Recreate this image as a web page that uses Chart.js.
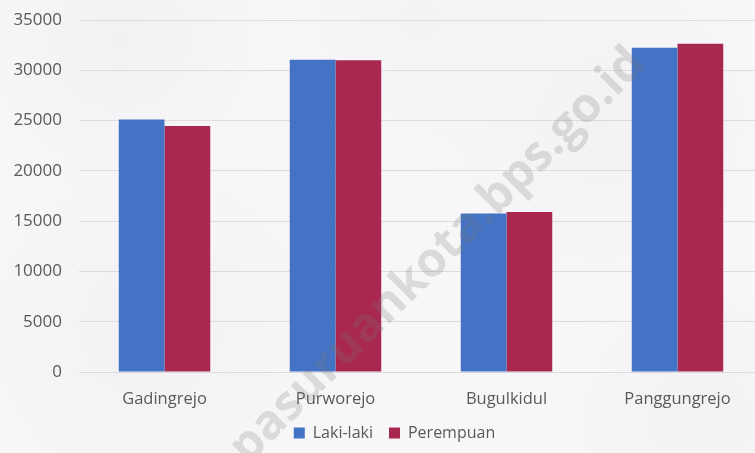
<!DOCTYPE html>
<html>
<head>
<meta charset="utf-8">
<script src="https://cdn.jsdelivr.net/npm/chart.js@4/dist/chart.umd.min.js"></script>
<style>
  html, body { margin: 0; padding: 0; background: #f5f5f7; overflow: hidden; }
  #wrap { width: 755px; height: 453px; position: relative; overflow: hidden; }
  canvas { display: block; }
</style>
</head>
<body>
<div id="wrap"><canvas id="c" width="788" height="453"></canvas></div>
<script>
const categories = ["Gadingrejo", "Purworejo", "Bugulkidul", "Panggungrejo"];
const lakiLaki = [25100, 31050, 15750, 32250];
const perempuan = [24450, 31000, 15900, 32650];
const seriesNames = ["Laki-laki", "Perempuan"];
const watermarkText = "pasuruankota.bps.go.id";

const bgPlugin = {
  id: 'bg',
  beforeDraw(chart) {
    const ctx = chart.ctx;
    const w = chart.width, h = chart.height;
    ctx.save();
    ctx.fillStyle = '#f7f7f9';
    ctx.fillRect(0, 0, w, h);
    const streaks = [[120, 40, 160, 0.06], [600, 120, 180, 0.05], [150, 330, 200, 0.05], [700, 420, 150, 0.05], [420, 20, 140, 0.04]];
    streaks.forEach(([x, y, r, a]) => {
      const g = ctx.createRadialGradient(x, y, 0, x, y, r);
      g.addColorStop(0, 'rgba(150,150,155,' + a + ')');
      g.addColorStop(1, 'rgba(150,150,155,0)');
      ctx.fillStyle = g;
      ctx.fillRect(x - r, y - r, 2 * r, 2 * r);
    });
    ctx.restore();
  }
};

const legendShiftPlugin = {
  id: 'legendShift',
  afterLayout(chart) {
    if (chart.legend) { chart.legend.left += 13; chart.legend.right += 13; }
  }
};

const watermarkPlugin = {
  id: 'wm',
  afterDatasetsDraw(chart) {
    const ctx = chart.ctx;
    ctx.save();
    ctx.translate(438, 256);
    ctx.rotate(-Math.PI / 4);
    ctx.font = 'bold 48px "Open Sans", sans-serif';
    ctx.fillStyle = 'rgba(120,120,120,0.22)';
    ctx.textAlign = 'center';
    ctx.textBaseline = 'middle';
    ctx.fillText(watermarkText, 0, 0);
    ctx.restore();
  }
};

Chart.defaults.font.family = '"Open Sans", sans-serif';
Chart.defaults.font.size = 16;
Chart.defaults.color = '#595959';

new Chart(document.getElementById('c'), {
  type: 'bar',
  data: {
    labels: categories,
    datasets: [
      { label: seriesNames[0], data: lakiLaki, backgroundColor: '#4472C4', categoryPercentage: 0.535, barPercentage: 1.0 },
      { label: seriesNames[1], data: perempuan, backgroundColor: '#A9284F', categoryPercentage: 0.535, barPercentage: 1.0 }
    ]
  },
  options: {
    responsive: false,
    animation: false,
    devicePixelRatio: 1,
    layout: { padding: { top: 20, right: 25, left: 0, bottom: 2 } },
    plugins: {
      legend: {
        position: 'bottom',
        labels: { boxWidth: 11, boxHeight: 11, padding: 16, color: '#595959', font: { size: 16 } }
      },
      tooltip: { enabled: false }
    },
    scales: {
      x: {
        grid: { display: false, drawTicks: false },
        border: { display: true, color: '#d9d9d9' },
        ticks: { padding: 17, color: '#595959', font: { size: 16.5 } },
        afterFit(s) { s.height = 37; }
      },
      y: {
        min: 0, max: 35000,
        ticks: { stepSize: 5000, padding: 17, color: '#595959', font: { size: 17 }, callback: (v) => String(v) },
        grid: { color: '#dcdcdc', drawTicks: false },
        border: { display: false },
        afterFit(s) { s.width = 79; s.paddingTop = 0; s.paddingBottom = 0; }
      }
    }
  },
  plugins: [bgPlugin, legendShiftPlugin, watermarkPlugin]
});
</script>
</body>
</html>
